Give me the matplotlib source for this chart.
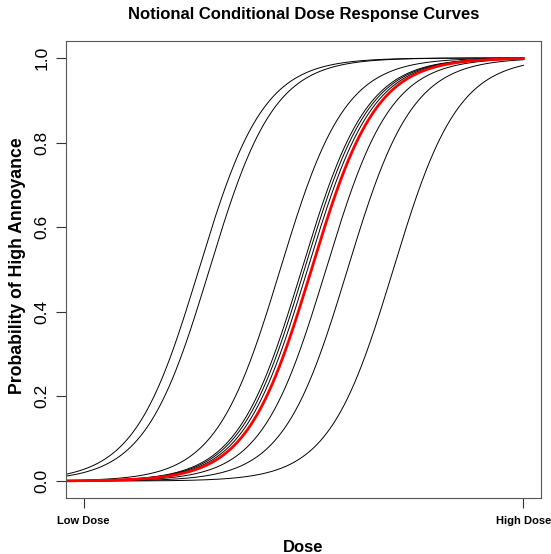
import numpy as np
import matplotlib
matplotlib.use('Agg')
import matplotlib.pyplot as plt

plt.rcParams['font.family'] = ['Liberation Sans', 'DejaVu Sans']

# dose scale: 0 = low dose, 1 = high dose
midpoints = [0.262, 0.286, 0.447, 0.496, 0.502, 0.509, 0.551, 0.600, 0.704]
slopes = [13.6, 13.6, 13.6, 13.6, 13.6, 13.6, 13.6, 13.6, 13.6]
red_mid = 0.518
red_slope = 13.6
x_ticks = [0, 1]
x_ticklabels = ['Low Dose', 'High Dose']
y_ticks = [0.0, 0.2, 0.4, 0.6, 0.8, 1.0]

dose = np.linspace(-0.05, 1.0, 400)

fig = plt.figure(figsize=(5.51, 5.54), dpi=100)
ax = fig.add_axes([0.1198, 0.1011, 0.8621, 0.8249])

for m, s in zip(midpoints, slopes):
    ax.plot(dose, 1 / (1 + np.exp(-s * (dose - m))), color='black', lw=0.7)
ax.plot(dose, 1 / (1 + np.exp(-red_slope * (dose - red_mid))), color='red', lw=2.0)

ax.set_xlim(-0.04, 1.04)
ax.set_ylim(-0.04, 1.04)
ax.set_xticks(x_ticks)
ax.set_xticklabels(x_ticklabels, fontsize=8, fontweight='bold')
ax.set_yticks(y_ticks)
ax.set_yticklabels([f'{v:.1f}' for v in y_ticks], fontsize=12.5, rotation=90, va='center')
ax.tick_params(direction='out', length=7, width=0.8, color='#333333', pad=5)
ax.tick_params(axis='x', pad=6)
for sp in ax.spines.values():
    sp.set_color('#555555')
    sp.set_linewidth(0.8)

ax.set_title('Notional Conditional Dose Response Curves', fontsize=12, fontweight='bold', pad=16)
ax.set_xlabel('Dose', fontsize=12, fontweight='bold', labelpad=10)
ax.set_ylabel('Probability of High Annoyance', fontsize=12.7, fontweight='bold', labelpad=6)
ax.yaxis.label.set_y(0.508)

fig.savefig('out.png', dpi=100)
